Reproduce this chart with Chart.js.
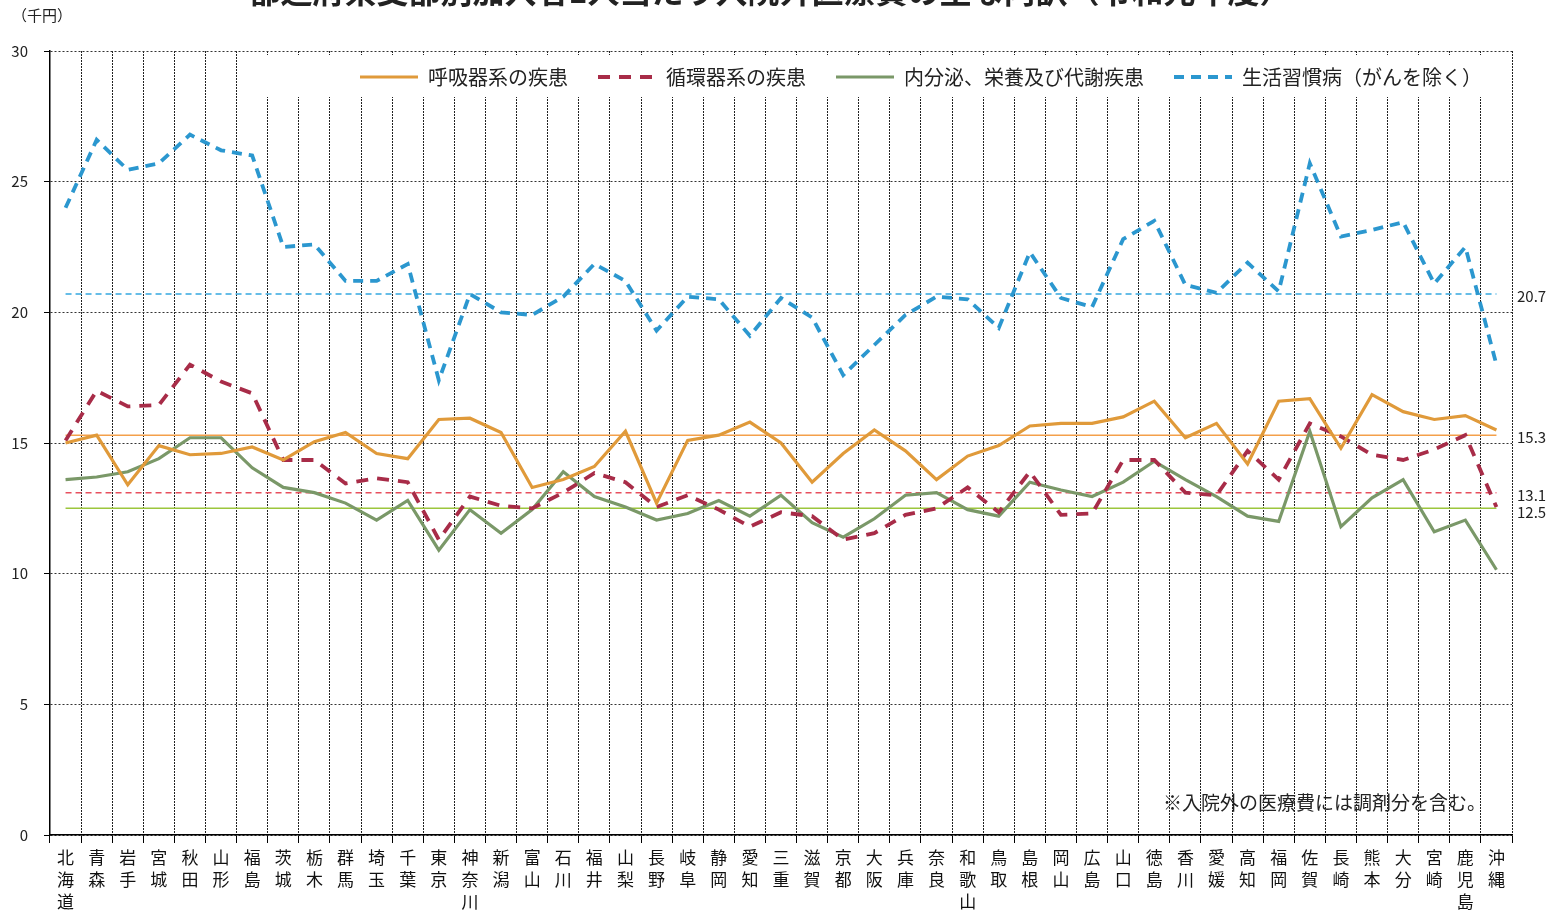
<!DOCTYPE html>
<html lang="ja">
<head>
<meta charset="utf-8">
<title>都道府県支部別加入者1人当たり入院外医療費の主な内訳</title>
<script src="https://cdn.jsdelivr.net/npm/chart.js@4.4.1/dist/chart.umd.min.js"></script>
<style>
html,body{margin:0;padding:0;background:#fff;}
canvas{display:block;}
</style>
</head>
<body>
<canvas id="chart" width="1556" height="916"></canvas>
<script>
// ---- Data (千円) ----
const prefs = ["北海道","青森","岩手","宮城","秋田","山形","福島","茨城","栃木","群馬","埼玉","千葉","東京","神奈川","新潟","富山","石川","福井","山梨","長野","岐阜","静岡","愛知","三重","滋賀","京都","大阪","兵庫","奈良","和歌山","鳥取","島根","岡山","広島","山口","徳島","香川","愛媛","高知","福岡","佐賀","長崎","熊本","大分","宮崎","鹿児島","沖縄"];

const respiratory = [15.0,15.3,13.4,14.9,14.55,14.6,14.85,14.35,15.05,15.4,14.6,14.4,15.9,15.95,15.4,13.3,13.6,14.1,15.45,12.7,15.1,15.3,15.8,15.0,13.5,14.6,15.5,14.7,13.6,14.5,14.9,15.65,15.75,15.75,16.0,16.6,15.2,15.75,14.2,16.6,16.7,14.8,16.85,16.2,15.9,16.05,15.5];
const circulatory = [15.1,17.0,16.4,16.45,18.0,17.35,16.9,14.35,14.35,13.45,13.65,13.5,11.3,12.95,12.6,12.5,13.1,13.85,13.5,12.55,13.0,12.45,11.8,12.35,12.2,11.3,11.55,12.25,12.5,13.3,12.35,13.9,12.25,12.3,14.35,14.35,13.1,13.0,14.7,13.6,15.75,15.25,14.55,14.35,14.75,15.3,12.55];
const endocrine = [13.6,13.7,13.9,14.4,15.2,15.2,14.05,13.3,13.1,12.7,12.05,12.8,10.9,12.45,11.55,12.45,13.9,12.95,12.55,12.05,12.3,12.8,12.2,13.0,11.95,11.4,12.1,13.0,13.1,12.45,12.2,13.5,13.2,12.95,13.5,14.3,13.6,12.95,12.2,12.0,15.45,11.8,12.9,13.6,11.6,12.05,10.15];
const lifestyle = [24.0,26.6,25.45,25.7,26.8,26.2,26.0,22.5,22.6,21.2,21.2,21.85,17.4,20.7,20.0,19.9,20.6,21.85,21.2,19.3,20.6,20.5,19.1,20.55,19.8,17.6,18.75,19.9,20.6,20.5,19.4,22.3,20.55,20.2,22.8,23.5,21.05,20.75,21.9,20.8,25.7,22.9,23.15,23.45,21.1,22.5,18.0];

// national averages (drawn as flat reference lines)
const avgRespiratory = 15.3;
const avgCirculatory = 13.1;
const avgEndocrine = 12.5;
const avgLifestyle = 20.7;

const seriesNames = ["呼吸器系の疾患","循環器系の疾患","内分泌、栄養及び代謝疾患","生活習慣病（がんを除く）"];
const yTicks = [0,5,10,15,20,25,30];

const titleText = "都道府県支部別加入者1人当たり入院外医療費の主な内訳（令和元年度）";
const unitText = "（千円）";
const noteText = "※入院外の医療費には調剤分を含む。";

const FONT = '"Noto Sans CJK JP", "Noto Sans", sans-serif';

// ---- Helpers ----
const flat = v => prefs.map(() => v);
const avgLine = (v, color, dash) => ({
  label: "avg", data: flat(v), borderColor: color, borderWidth: 1.5,
  borderDash: dash || [], pointRadius: 0, fill: false
});

// legend items: take dash / width / colour from the dataset line
function legendLabels(chart){
  return Chart.defaults.plugins.legend.labels.generateLabels(chart).map(it => {
    const ds = chart.data.datasets[it.datasetIndex];
    it.lineDash = ds.borderDash || [];
    it.lineWidth = ds.borderWidth;
    it.strokeStyle = ds.borderColor;
    it.fillStyle = ds.borderColor;
    return it;
  });
}

// ---- Extra drawing (title, labels, legend inside the plot) ----
const extras = {
  id: "extras",
  afterLayout(chart){
    // legend takes no room on top; move it down into the plot area
    const lg = chart.legend;
    const h = 61;
    lg.top = 37; lg.bottom = lg.top + h; lg.height = h;
  },
  beforeDatasetsDraw(chart){
    const lg = chart.legend, hb = lg.legendHitBoxes;
    if(!hb || !hb.length) return;
    const ctx = chart.ctx;
    const l = Math.min(...hb.map(h=>h.left)) - 100;
    const r = Math.max(...hb.map(h=>h.left+h.width)) + 16;
    const t = Math.min(...hb.map(h=>h.top)) - 12;
    const b = Math.max(...hb.map(h=>h.top+h.height)) + 10;
    ctx.save();
    ctx.fillStyle = "#fff";
    ctx.fillRect(l, t, r-l, b-t);
    ctx.restore();
    lg.draw(chart.chartArea);
  },
  afterDraw(chart){
    const {ctx, chartArea} = chart;
    const y = chart.scales.y;
    ctx.save();
    ctx.fillStyle = "#222";
    // title (top cut off as in the scan)
    ctx.font = "bold 32px " + FONT;
    ctx.textAlign = "center"; ctx.textBaseline = "alphabetic";
    ctx.fillText(titleText, 770, 3);
    // unit
    ctx.font = "15px " + FONT;
    ctx.textAlign = "left"; ctx.textBaseline = "middle";
    ctx.fillText(unitText, 12, 15);
    // average labels
    const avgs = [[avgLifestyle,2],[avgRespiratory,2],[avgCirculatory,3],[avgEndocrine,4]];
    for(const [v,off] of avgs){
      ctx.fillText(v.toFixed(1), chartArea.right + 5, y.getPixelForValue(v) + off);
    }
    // note
    ctx.font = "19px " + FONT;
    ctx.textAlign = "right";
    ctx.fillText(noteText, 1486, 803);
    ctx.restore();
  }
};

// ---- Chart ----
new Chart(document.getElementById("chart").getContext("2d"), {
  type: "line",
  data: {
    labels: prefs.map(p => p.split("")),
    datasets: [
      {label: seriesNames[0], data: respiratory, borderColor: "#e09a3a", borderWidth: 3.2, pointRadius: 0},
      {label: seriesNames[1], data: circulatory, borderColor: "#a82c48", borderWidth: 3.8, borderDash: [12,9], pointRadius: 0},
      {label: seriesNames[2], data: endocrine, borderColor: "#7a9868", borderWidth: 3.2, pointRadius: 0},
      {label: seriesNames[3], data: lifestyle, borderColor: "#2b97cf", borderWidth: 3.8, borderDash: [10,7], pointRadius: 0},
      avgLine(avgRespiratory, "#f4a04a"),
      avgLine(avgCirculatory, "#e8505e", [6,4]),
      avgLine(avgEndocrine, "#9cc63c"),
      avgLine(avgLifestyle, "#35a8e0", [6,4])
    ]
  },
  options: {
    responsive: false,
    animation: false,
    devicePixelRatio: 1,
    layout: {padding: {top: 0, right: 44, left: 0, bottom: 0}},
    plugins: {
      tooltip: {enabled: false},
      legend: {
        position: "top",
        align: "end",
        maxHeight: 51,
        labels: {
          usePointStyle: true, pointStyle: "line", pointStyleWidth: 58,
          font: {family: FONT, size: 20}, color: "#222", padding: 30,
          generateLabels: legendLabels,
          filter: item => item.datasetIndex < 4
        }
      }
    },
    scales: {
      x: {
        type: "category",
        offset: true,
        grid: {offset: true, color: "#222", lineWidth: 1, tickLength: 8, tickColor: "#000", tickBorderDash: []},
        border: {display: true, color: "#000", width: 1.5, dash: [2,1]},
        ticks: {autoSkip: false, maxRotation: 0, minRotation: 0, padding: 3,
          color: "#111", font: {family: FONT, size: 17, lineHeight: 1.3}},
        afterFit: s => { s.height = 81; }
      },
      y: {
        min: 0, max: 30,
        afterBuildTicks: s => { s.ticks = yTicks.map(v => ({value: v})); },
        grid: {color: "#333", lineWidth: 1, tickLength: 6, tickColor: "#000", tickBorderDash: []},
        border: {display: true, color: "#000", width: 1.5, dash: [2,2]},
        ticks: {padding: 16, color: "#222", font: {family: FONT, size: 15}},
        afterFit: s => { s.width = 50; }
      }
    }
  },
  plugins: [extras]
});
</script>
</body>
</html>
